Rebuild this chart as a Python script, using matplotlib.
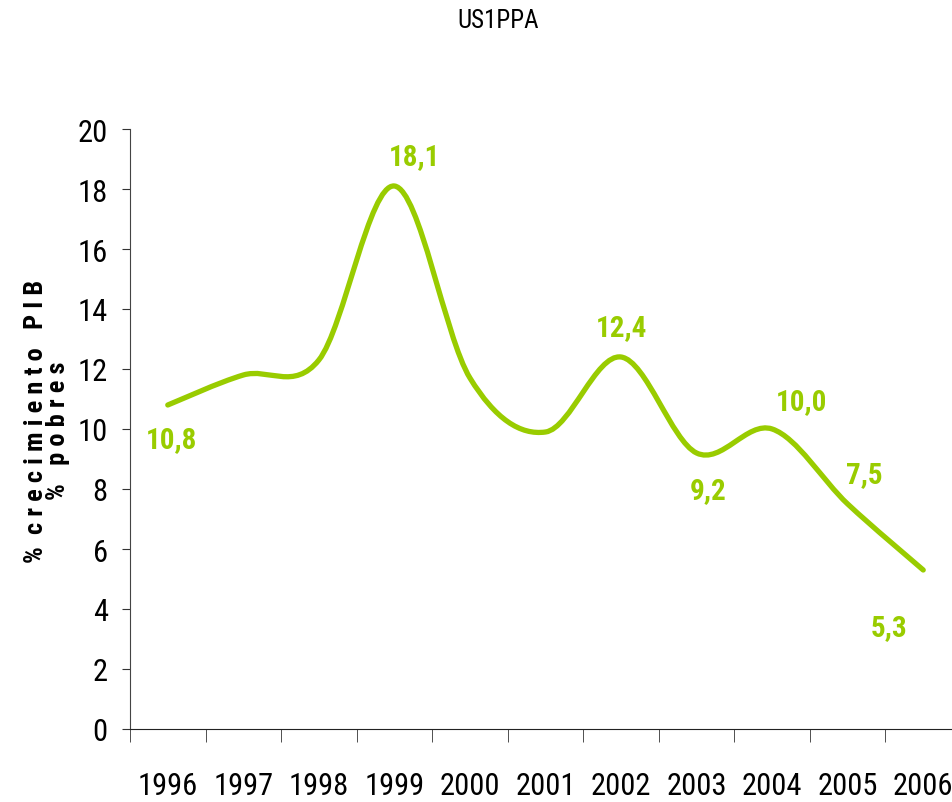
import matplotlib
matplotlib.use('Agg')
import matplotlib.pyplot as plt
from matplotlib.path import Path
from matplotlib.patches import PathPatch

years = ['1996', '1997', '1998', '1999', '2000', '2001', '2002', '2003', '2004', '2005', '2006']
pobres = [10.8, 11.8, 12.3, 18.1, 11.7, 9.9, 12.4, 9.2, 10.0, 7.5, 5.3]
etiquetas_idx = [0, 3, 6, 7, 8, 9, 10]
# desplazamiento de cada etiqueta en pixeles
etiquetas_off = [(4, -34), (20, 30), (0, 30), (12, -37), (29, 28), (17, 30), (-34, -57)]

verde = '#99cc00'

plt.rcParams['font.family'] = ['Roboto Condensed', 'Liberation Sans', 'DejaVu Sans']

fig = plt.figure(figsize=(9.53, 8.03), dpi=100)
ax = fig.add_axes([130 / 953, 73 / 803, 831 / 953, 600 / 803])

# curva suavizada tipo Excel (bezier con puntos de control a 1/6)
x = list(range(len(pobres)))
pts = list(zip(x, pobres))
verts = [pts[0]]
codes = [Path.MOVETO]
for i in range(len(pts) - 1):
    p0 = pts[max(i - 1, 0)]
    p1 = pts[i]
    p2 = pts[i + 1]
    p3 = pts[min(i + 2, len(pts) - 1)]
    c1 = (p1[0] + (p2[0] - p0[0]) / 6, p1[1] + (p2[1] - p0[1]) / 6)
    c2 = (p2[0] - (p3[0] - p1[0]) / 6, p2[1] - (p3[1] - p1[1]) / 6)
    verts += [c1, c2, p2]
    codes += [Path.CURVE4] * 3
ax.add_patch(PathPatch(Path(verts, codes), facecolor='none', edgecolor=verde,
                       lw=3.8, capstyle='round', joinstyle='round'))

for i, off in zip(etiquetas_idx, etiquetas_off):
    ax.annotate(f'{pobres[i]:.1f}'.replace('.', ','), (x[i], pobres[i]), xytext=off,
                textcoords='offset pixels', ha='center', va='center',
                fontsize=21, fontweight='bold', color=verde)

ax.set_xlim(-0.5, len(years) - 0.5)
ax.set_ylim(0, 20)
ax.set_yticks(range(0, 21, 2))
ax.set_xticks(x)
ax.set_xticklabels(years)
ax.set_xticks([i - 0.5 for i in range(len(years) + 1)], minor=True)
ax.tick_params(axis='x', which='major', length=0, pad=30, labelsize=22)
ax.tick_params(axis='x', which='minor', length=9, direction='out', color='#333333')
ax.tick_params(axis='y', length=6, direction='out', pad=10, labelsize=22, color='#333333')
for s in ['top', 'right']:
    ax.spines[s].set_visible(False)
ax.spines['left'].set_color('#444444')
ax.spines['bottom'].set_color('#222222')

fig.text(36 / 953, 382 / 803, '%  c r e c i m i e n t o   P I B', rotation=90,
         ha='center', va='center', fontsize=19, fontweight='bold')
fig.text(58 / 953, 372 / 803, '%   p o b r e s', rotation=90,
         ha='center', va='center', fontsize=19, fontweight='bold')
fig.text(498 / 953, 782 / 803, 'US1PPA', ha='center', va='center', fontsize=18)

fig.savefig('out.png', dpi=100)
